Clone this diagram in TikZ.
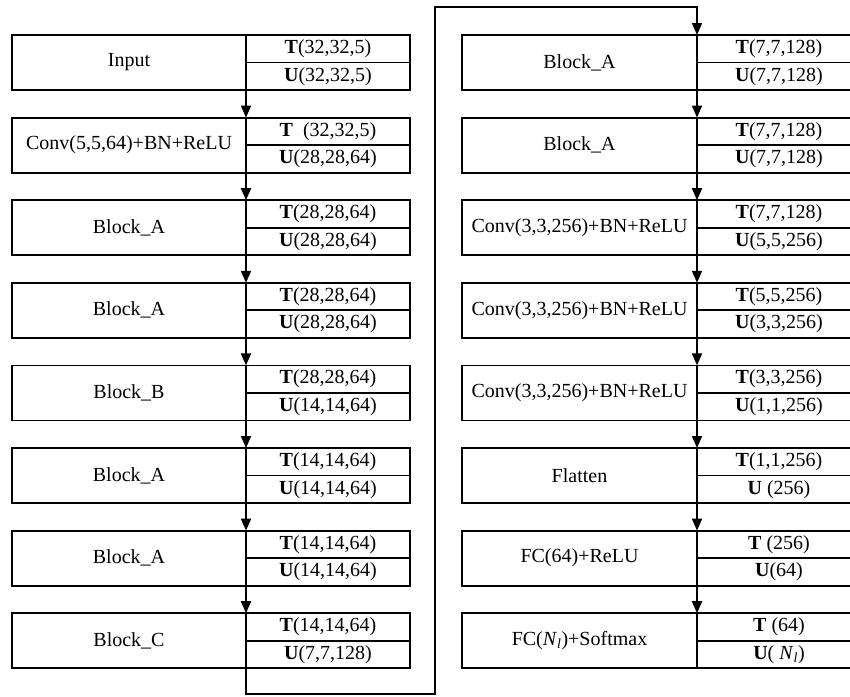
\documentclass[tikz,border=0pt]{standalone}
\usepackage{fontspec}
\setmainfont{Liberation Serif}
\usetikzlibrary{arrows.meta}
\newcommand{\Nl}{\textit{N}\textsubscript{\textit{l}}}
\begin{document}
\begin{tikzpicture}[x=1pt,y=-1pt,
  lw/.style={line width=1.8pt},
  txt/.style={font=\fontsize{20}{23}\selectfont},
  lab/.style={draw,lw,txt,minimum width=234pt,minimum height=55pt,anchor=north west,inner sep=0pt,outer sep=0pt},
  half/.style={draw,lw,txt,minimum width=164pt,minimum height=27.5pt,anchor=north west,inner sep=0pt,outer sep=0pt},
  arr/.style={lw,-{Triangle[width=10pt,length=12pt]}}
]
\path[use as bounding box] (0,0) rectangle (850,696);
\clip (0,0) rectangle (850,696);
% left column
\foreach \i/\lbl/\t/\u in {
  1/Input/{\textbf{T}(32,32,5)}/{\textbf{U}(32,32,5)},
  2/{Conv(5,5,64)+BN+ReLU}/{\textbf{T}\ \ (32,32,5)}/{\textbf{U}(28,28,64)},
  3/Block\_A/{\textbf{T}(28,28,64)}/{\textbf{U}(28,28,64)},
  4/Block\_A/{\textbf{T}(28,28,64)}/{\textbf{U}(28,28,64)},
  5/Block\_B/{\textbf{T}(28,28,64)}/{\textbf{U}(14,14,64)},
  6/Block\_A/{\textbf{T}(14,14,64)}/{\textbf{U}(14,14,64)},
  7/Block\_A/{\textbf{T}(14,14,64)}/{\textbf{U}(14,14,64)},
  8/Block\_C/{\textbf{T}(14,14,64)}/{\textbf{U}(7,7,128)}}{
  \node[lab] (L\i) at (12,{35+82.6*(\i-1)}) {\lbl};
  \node[half] (LT\i) at (L\i.north east) {\t};
  \node[half] (LU\i) at (LT\i.south west) {\u};
}
% right column
\foreach \i/\lbl/\t/\u in {
  1/Block\_A/{\textbf{T}(7,7,128)}/{\textbf{U}(7,7,128)},
  2/Block\_A/{\textbf{T}(7,7,128)}/{\textbf{U}(7,7,128)},
  3/{Conv(3,3,256)+BN+ReLU}/{\textbf{T}(7,7,128)}/{\textbf{U}(5,5,256)},
  4/{Conv(3,3,256)+BN+ReLU}/{\textbf{T}(5,5,256)}/{\textbf{U}(3,3,256)},
  5/{Conv(3,3,256)+BN+ReLU}/{\textbf{T}(3,3,256)}/{\textbf{U}(1,1,256)},
  6/Flatten/{\textbf{T}(1,1,256)}/{\textbf{U} (256)},
  7/{FC(64)+ReLU}/{\textbf{T} (256)}/{\textbf{U}(64)},
  8/{FC(\Nl)+Softmax}/{\textbf{T} (64)}/{\textbf{U}( \Nl)}}{
  \node[lab,minimum width=235pt] (R\i) at (462,{35+82.6*(\i-1)}) {\lbl};
  \node[half] (RT\i) at (R\i.north east) {\t};
  \node[half] (RU\i) at (RT\i.south west) {\u};
}
% arrows
\foreach \i [evaluate=\i as \j using int(\i+1)] in {1,...,7}{
  \draw[arr] (L\i.south east) -- (L\j.north east);
  \draw[arr] (R\i.south east) -- (R\j.north east);
}
\coordinate (lb) at (435,694);
\coordinate (lt) at (435,7);
\draw[arr,line join=miter] (L8.south east) |- (lb) -- (lt) -| (R1.north east);
\end{tikzpicture}
\end{document}
